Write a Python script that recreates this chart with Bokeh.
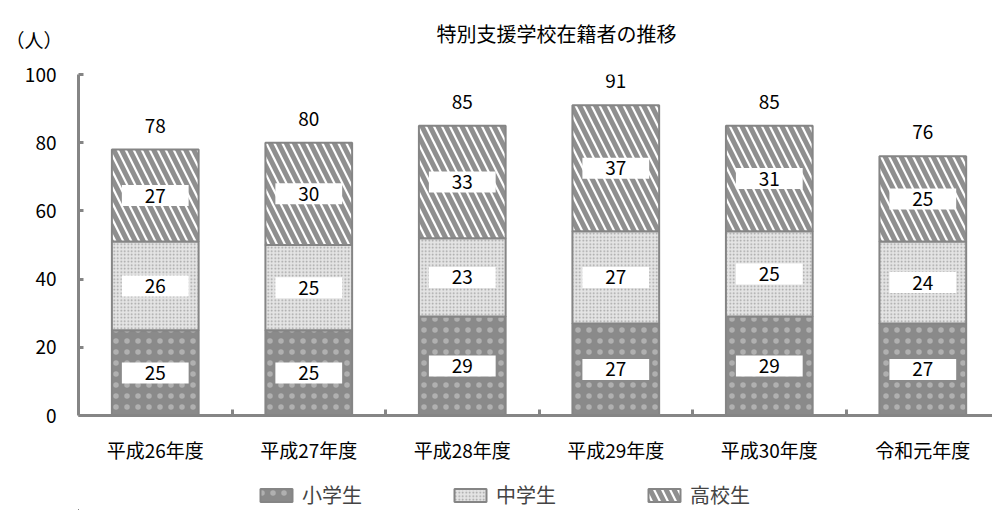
from bokeh.plotting import figure
from bokeh.models import (ColumnDataSource, Range1d, FixedTicker, Label, Legend, LegendItem, LinearAxis)
from bokeh.layouts import column
from bokeh.core.properties import value
from bokeh.embed import file_html
from bokeh.resources import INLINE

categories = ["平成26年度", "平成27年度", "平成28年度", "平成29年度", "平成30年度", "令和元年度"]
elementary = [25, 25, 29, 27, 29, 27]
junior = [26, 25, 23, 27, 25, 24]
high = [27, 30, 33, 37, 31, 25]
totals = [78, 80, 85, 91, 85, 76]
series_names = ["小学生", "中学生", "高校生"]
y_ticks = [0, 20, 40, 60, 80, 100]
title_text = "特別支援学校在籍者の推移"
unit_text = "（人）"

FONT = "Noto Sans CJK JP"
GRAY = "#858585"

x = [i + 0.5 for i in range(len(categories))]
b1 = [0] * len(x)
t1 = elementary
b2 = t1
t2 = [a + b for a, b in zip(t1, junior)]
b3 = t2
t3 = [a + b for a, b in zip(t2, high)]

src = ColumnDataSource(dict(
    x=x, b1=b1, t1=t1, b2=b2, t2=t2, b3=b3, t3=t3,
    m1=[(a + b) / 2 for a, b in zip(b1, t1)],
    m2=[(a + b) / 2 for a, b in zip(b2, t2)],
    m3=[(a + b) / 2 for a, b in zip(b3, t3)],
    l1=[str(v) for v in elementary],
    l2=[str(v) for v in junior],
    l3=[str(v) for v in high],
    tot=totals, tl=[str(v) for v in totals],
))

# header strip (title + unit label)
hd = figure(width=992, height=60, output_backend="svg", toolbar_location=None,
            x_range=Range1d(0, 1), y_range=Range1d(0, 1),
            x_axis_type=None, y_axis_type=None,
            min_border_left=78, min_border_right=0, min_border_top=18, min_border_bottom=0)
hd.outline_line_color = None
hd.grid.visible = False
unit_axis = LinearAxis(ticker=FixedTicker(ticks=[]), axis_label=unit_text,
                       axis_label_orientation="horizontal", axis_label_standoff=16,
                       axis_label_text_font=FONT, axis_label_text_font_size="19px",
                       axis_label_text_font_style="normal", axis_label_text_color="black",
                       axis_line_color=None, major_tick_line_color=None,
                       major_tick_in=0, major_tick_out=0, major_label_standoff=0,
                       minor_tick_line_color=None, minor_tick_in=0, minor_tick_out=0,
                       major_label_text_font_size="0px")
hd.add_layout(unit_axis, "left")
hd.add_layout(Label(x=478, y=27, x_units="screen", y_units="screen",
                    text=title_text, text_align="center", text_baseline="middle",
                    text_font=FONT, text_font_size="20px", text_color="black"))

p = figure(width=992, height=410, output_backend="svg", toolbar_location=None,
           x_range=Range1d(0, 5.954), y_range=Range1d(0, 100),
           min_border_left=78, min_border_right=0, min_border_top=14, min_border_bottom=55)
p.outline_line_color = None
p.xgrid.visible = False
p.ygrid.visible = False

W = 0.565
STYLES = [
    dict(fill_color="#8a8a8a", line_color=GRAY, line_width=2,
         hatch_pattern="dot", hatch_color="#b0b0b0", hatch_scale=11, hatch_weight=1),
    dict(fill_color="#e4e4e4", line_color=GRAY, line_width=2,
         hatch_pattern="dot", hatch_color="#a0a0a0", hatch_scale=3.5, hatch_weight=1),
    dict(fill_color="white", line_color=GRAY, line_width=2,
         hatch_pattern="\\", hatch_color="#8f8f8f", hatch_scale=16, hatch_weight=5),
]
p.vbar(x="x", bottom="b1", top="t1", width=W, source=src, **STYLES[0])
p.vbar(x="x", bottom="b2", top="t2", width=W, source=src, **STYLES[1])
p.vbar(x="x", bottom="b3", top="t3", width=W, source=src, **STYLES[2])

for m, l in (("m1", "l1"), ("m2", "l2"), ("m3", "l3")):
    p.rect(x="x", y=m, width=0.435, height=21, height_units="screen", source=src,
           fill_color="white", line_color=None)
    p.text(x="x", y=m, text=l, source=src, text_align="center", text_baseline="middle",
           text_font=value(FONT), text_font_size="19px", text_color="black")

p.text(x="x", y="tot", text="tl", source=src, text_align="center", text_baseline="middle",
       y_offset=-24, text_font=value(FONT), text_font_size="19px", text_color="black")

# axes
p.yaxis.ticker = FixedTicker(ticks=y_ticks)
p.yaxis.axis_line_color = GRAY
p.yaxis.axis_line_width = 3
p.yaxis.major_tick_line_color = GRAY
p.yaxis.major_tick_line_width = 3
p.yaxis.major_tick_in = 5
p.yaxis.major_tick_out = 0
p.yaxis.minor_tick_line_color = None
p.yaxis.major_label_text_font = FONT
p.yaxis.major_label_text_font_size = "19px"
p.yaxis.major_label_text_color = "black"
p.yaxis.major_label_standoff = 22

p.xaxis.ticker = FixedTicker(ticks=x, minor_ticks=[1, 2, 3, 4, 5])
p.xaxis.major_label_overrides = {v: c for v, c in zip(x, categories)}
p.xaxis.axis_line_color = GRAY
p.xaxis.axis_line_width = 3
p.xaxis.major_tick_line_color = None
p.xaxis.minor_tick_line_color = GRAY
p.xaxis.minor_tick_line_width = 3
p.xaxis.minor_tick_in = 6
p.xaxis.minor_tick_out = 0
p.xaxis.major_label_text_font = FONT
p.xaxis.major_label_text_font_size = "19px"
p.xaxis.major_label_text_color = "black"
p.xaxis.major_label_standoff = 14

# legend strip (its bars lie far outside its visible ranges; only the legend shows)
lg = figure(width=992, height=40, output_backend="svg", toolbar_location=None,
            x_range=Range1d(100, 101), y_range=Range1d(1000, 1001),
            x_axis_type=None, y_axis_type=None,
            min_border_left=78, min_border_right=0, min_border_top=0, min_border_bottom=0)
lg.outline_line_color = None
lg.grid.visible = False
rs = [lg.vbar(x="x", bottom=b, top=t, width=W, source=src, **s)
      for (b, t), s in zip((("b1", "t1"), ("b2", "t2"), ("b3", "t3")), STYLES)]
legend = Legend(items=[LegendItem(label=n, renderers=[r]) for n, r in zip(series_names, rs)],
                orientation="horizontal", location=(178, 1),
                glyph_width=40, glyph_height=16, spacing=88, label_standoff=6,
                label_text_font=FONT, label_text_font_size="20px",
                background_fill_alpha=0, border_line_color=None, padding=4, margin=0)
lg.add_layout(legend)

open("out.html", "w").write(file_html(column(hd, p, lg, spacing=0), INLINE))
